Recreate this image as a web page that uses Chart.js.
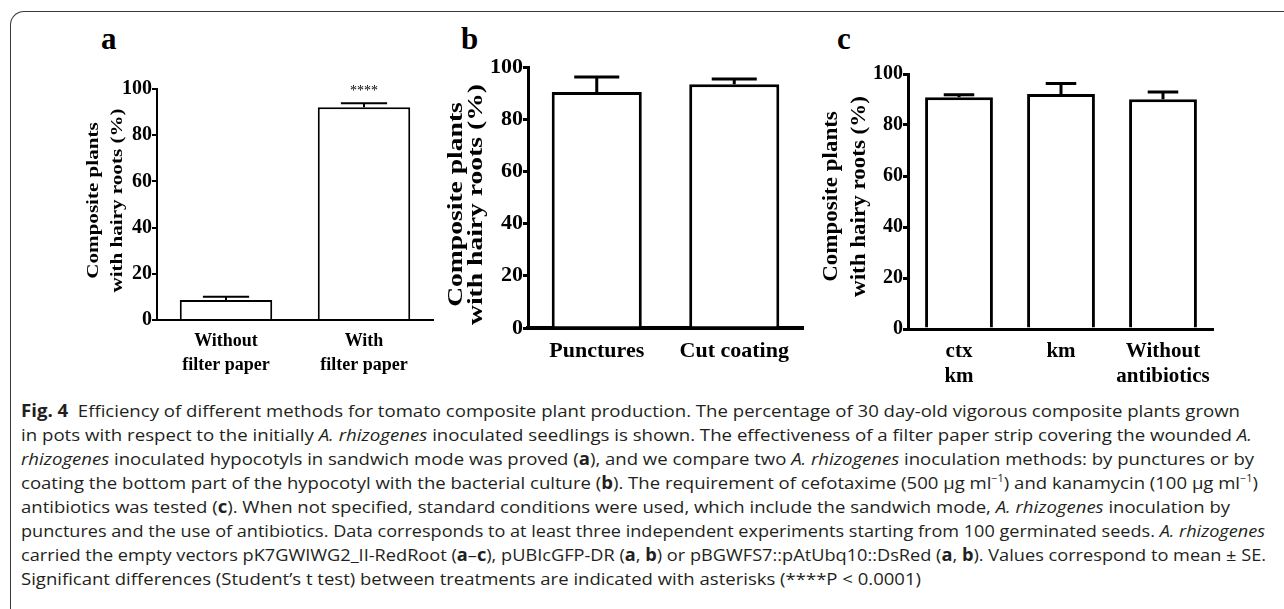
<!DOCTYPE html>
<html>
<head>
<meta charset="utf-8">
<title>Fig. 4</title>
<script src="https://cdn.jsdelivr.net/npm/chart.js@4.4.1/dist/chart.umd.min.js"></script>
<style>
    html, body { margin: 0; padding: 0; background: #fff; }
    body { width: 1284px; height: 609px; position: relative; overflow: hidden; }
    .frame {
        position: absolute; left: 10px; top: 11px; width: 1320px; height: 640px;
        border-left: 1px solid #3a3a3a; border-top: 1px solid #3a3a3a;
        border-top-left-radius: 14px;
    }
    .panel { position: absolute; }
    .letter { position: absolute; top: 23px; font: bold 31px "Liberation Serif", serif; line-height: 1; color: #000; }
    .caption { position: absolute; left: 21px; top: 399px; font-family: "Open Sans", sans-serif; font-size: 17px; color: #231f20; }
    .caption div { white-space: nowrap; height: 24px; line-height: 24px; width: max-content; transform-origin: 0 50%; }
    .caption sup { font-size: 10px; line-height: 0; }
</style>
</head>
<body>
<div class="frame"></div>

<div class="letter" style="left:101px">a</div>
<div class="letter" style="left:461px">b</div>
<div class="letter" style="left:837px">c</div>

<canvas id="chart-a" class="panel" width="368" height="311" style="left:67px;top:69px"></canvas>
<canvas id="chart-b" class="panel" width="367" height="341" style="left:438px;top:47px"></canvas>
<canvas id="chart-c" class="panel" width="403" height="345" style="left:818px;top:54px"></canvas>

<div class="caption" id="caption">
    <div><b>Fig. 4</b>&nbsp; Efficiency of different methods for tomato composite plant production. The percentage of 30 day-old vigorous composite plants grown</div>
    <div>in pots with respect to the initially <i>A. rhizogenes</i> inoculated seedlings is shown. The effectiveness of a filter paper strip covering the wounded <i>A.</i></div>
    <div><i>rhizogenes</i> inoculated hypocotyls in sandwich mode was proved (<b>a</b>), and we compare two <i>A. rhizogenes</i> inoculation methods: by punctures or by</div>
    <div>coating the bottom part of the hypocotyl with the bacterial culture (<b>b</b>). The requirement of cefotaxime (500 µg ml<sup>−1</sup>) and kanamycin (100 µg ml<sup>−1</sup>)</div>
    <div>antibiotics was tested (<b>c</b>). When not specified, standard conditions were used, which include the sandwich mode, <i>A. rhizogenes</i> inoculation by</div>
    <div>punctures and the use of antibiotics. Data corresponds to at least three independent experiments starting from 100 germinated seeds. <i>A. rhizogenes</i></div>
    <div>carried the empty vectors pK7GWIWG2_II-RedRoot (<b>a</b>–<b>c</b>), pUBIcGFP-DR (<b>a</b>, <b>b</b>) or pBGWFS7::pAtUbq10::DsRed (<b>a</b>, <b>b</b>). Values correspond to mean ± SE.</div>
    <div>Significant differences (Student’s t test) between treatments are indicated with asterisks (****P &lt; 0.0001)</div>
</div>

<script>
    // Panel a: filter paper strip
    const labelsA = [['Without', 'filter paper'], ['With', 'filter paper']];
    const meansA = [8.7, 92.1];
    const errorsA = [1.4, 1.7];
    const starsA = ['', '****'];

    // Panel b: inoculation method
    const labelsB = ['Punctures', 'Cut coating'];
    const meansB = [90.4, 93.4];
    const errorsB = [5.8, 2.0];

    // Panel c: antibiotics
    const labelsC = [['ctx', 'km'], 'km', ['Without', 'antibiotics']];
    const meansC = [90.9, 92.2, 90.1];
    const errorsC = [1.0, 4.1, 2.8];

    const yTicks = [0, 20, 40, 60, 80, 100];
    const yTitle = ['Composite plants', 'with hairy roots (%)'];

    const SERIF = '"Liberation Serif", "Times New Roman", serif';

    /**
     * SEM whiskers (upper half only) plus significance marks
     */
    const errorBars = {
        id: 'errorBars',
        afterDatasetsDraw(chart, args, opts) {
            const ctx = chart.ctx;
            const yScale = chart.scales.y;
            const meta = chart.getDatasetMeta(0);

            ctx.save();
            ctx.strokeStyle = '#000';
            ctx.fillStyle = '#000';
            ctx.lineWidth = opts.lineWidth;
            meta.data.forEach((bar, i) => {
                const top = yScale.getPixelForValue(opts.values[i] + opts.errors[i]);
                const half = bar.width * opts.cap / 2;
                ctx.beginPath();
                ctx.moveTo(bar.x, bar.y);
                ctx.lineTo(bar.x, top);
                ctx.moveTo(bar.x - half, top);
                ctx.lineTo(bar.x + half, top);
                ctx.stroke();

                if (opts.marks && opts.marks[i]) {
                    ctx.font = '14px ' + SERIF;
                    ctx.textAlign = 'center';
                    ctx.textBaseline = 'alphabetic';
                    ctx.fillText(opts.marks[i], bar.x, top - 8);
                }
            });
            ctx.restore();
        }
    };

    /**
     * Rotated two-line y title, stretched along its length like the original
     */
    const sideTitle = {
        id: 'sideTitle',
        afterDraw(chart, args, opts) {
            const { ctx, chartArea } = chart;
            const midY = (chartArea.top + chartArea.bottom) / 2 + opts.dy;

            ctx.save();
            ctx.font = 'bold ' + opts.size + 'px ' + SERIF;
            ctx.fillStyle = '#000';
            ctx.textAlign = 'center';
            ctx.textBaseline = 'middle';
            opts.lines.forEach((text, i) => {
                ctx.save();
                ctx.translate(chartArea.left + opts.dx[i], midY);
                ctx.rotate(-Math.PI / 2);
                ctx.scale(opts.stretch, 1);
                ctx.fillText(text, 0, 0);
                ctx.restore();
            });
            ctx.restore();
        }
    };

    function buildChart(canvasId, p) {
        return new Chart(document.getElementById(canvasId), {
            type: 'bar',
            data: {
                labels: p.labels,
                datasets: [{
                    data: p.means,
                    backgroundColor: '#fff',
                    borderColor: '#000',
                    borderWidth: p.barLine,
                    barPercentage: p.barPct,
                    categoryPercentage: 1
                }]
            },
            options: {
                responsive: false,
                animation: false,
                devicePixelRatio: 1,
                layout: { padding: { top: 20, right: 2, bottom: 0, left: 0 } },
                plugins: {
                    legend: { display: false },
                    tooltip: { enabled: false },
                    errorBars: {
                        values: p.means,
                        errors: p.errors,
                        marks: p.marks,
                        cap: p.cap,
                        lineWidth: p.barLine
                    },
                    sideTitle: {
                        lines: yTitle,
                        size: p.titleSize,
                        stretch: p.stretch,
                        dx: p.titleDx,
                        dy: p.titleDy
                    }
                },
                scales: {
                    x: {
                        grid: { display: false, drawTicks: false },
                        border: { display: true, color: '#000', width: p.axisX },
                        ticks: {
                            color: '#000',
                            font: { family: SERIF, size: p.xSize, weight: 'bold', lineHeight: p.xLine },
                            padding: p.xPad,
                            maxRotation: 0,
                            autoSkip: false
                        },
                        afterFit: (scale) => { scale.height = p.xHeight; }
                    },
                    y: {
                        min: 0,
                        max: 100,
                        afterBuildTicks: (scale) => {
                            scale.ticks = yTicks.map(v => ({ value: v }));
                        },
                        grid: {
                            drawOnChartArea: false,
                            drawTicks: true,
                            tickLength: 5,
                            color: '#000',
                            lineWidth: p.axisY
                        },
                        border: { display: true, color: '#000', width: p.axisY },
                        ticks: {
                            color: '#000',
                            font: { family: SERIF, size: p.ySize, weight: 'bold' },
                            padding: 0
                        },
                        afterFit: (scale) => { scale.width = 90; }
                    }
                }
            },
            plugins: [errorBars, sideTitle]
        });
    }

    buildChart('chart-a', {
        labels: labelsA, means: meansA, errors: errorsA, marks: starsA,
        barPct: 0.67, cap: 0.5, barLine: 2, axisX: 2, axisY: 2,
        xSize: 18, xLine: 1.33, xPad: 9, xHeight: 60, ySize: 20,
        titleSize: 17, stretch: 1.24, titleDx: [-63, -39], titleDy: -4
    });

    buildChart('chart-b', {
        labels: labelsB, means: meansB, errors: errorsB,
        barPct: 0.655, cap: 0.5, barLine: 3, axisX: 4, axisY: 3,
        xSize: 22, xLine: 1.2, xPad: 10, xHeight: 60, ySize: 22,
        titleSize: 20, stretch: 1.38, titleDx: [-71, -51], titleDy: 7
    });

    buildChart('chart-c', {
        labels: labelsC, means: meansC, errors: errorsC,
        barPct: 0.665, cap: 0.45, barLine: 3, axisX: 3, axisY: 3,
        xSize: 21, xLine: 1.15, xPad: 11, xHeight: 70, ySize: 20,
        titleSize: 20, stretch: 1.15, titleDx: [-76, -48], titleDy: -5
    });

    // Fit each caption line to the width it has in the original page
    const captionRight = [1240, 1252, 1254, 1258, 1230, 1265, 1266, 921];
    document.querySelectorAll('#caption div').forEach((line, i) => {
        const natural = line.getBoundingClientRect().width;
        const target = captionRight[i] - 21;
        line.style.transform = 'scaleX(' + (target / natural).toFixed(4) + ')';
    });
</script>
</body>
</html>
